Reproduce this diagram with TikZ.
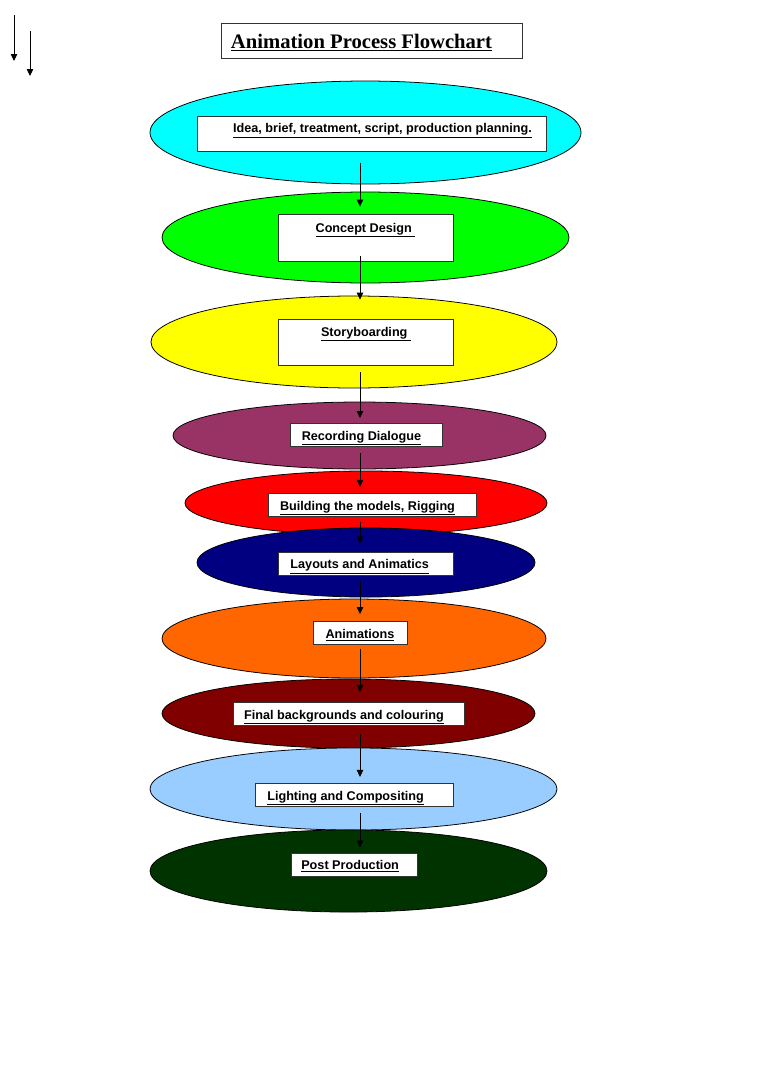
\documentclass[tikz,border=0pt]{standalone}
\usepackage{fontspec}
\setmainfont{Liberation Sans}
\newfontfamily\titlefont{Liberation Serif}
\usetikzlibrary{shapes.geometric,arrows.meta}
\definecolor{ideafill}{HTML}{00FFFF}
\definecolor{conceptfill}{HTML}{00FF00}
\definecolor{storyfill}{HTML}{FFFF00}
\definecolor{dialoguefill}{HTML}{993366}
\definecolor{modelfill}{HTML}{FF0000}
\definecolor{layoutfill}{HTML}{000080}
\definecolor{animfill}{HTML}{FF6600}
\definecolor{colourfill}{HTML}{800000}
\definecolor{lightfill}{HTML}{99CCFF}
\definecolor{postfill}{HTML}{003300}
\begin{document}
\begin{tikzpicture}[x=0.775pt, y=-0.775pt,
	stage/.style={ellipse, draw=black, line width=0.6pt, inner sep=0pt},
	box/.style={draw=black!80, fill=white, line width=0.6pt, inner sep=0pt,
		font=\bfseries\fontsize{9.8}{11}\selectfont, text height=13pt, text depth=5pt},
	flow/.style={-{Triangle[length=5.4pt,width=5pt]}, line width=0.6pt}]
	\useasboundingbox (0,0) rectangle (768,1087);
	\coordinate (s1) at (14,15);
	\coordinate (t1) at (14,61);
	\coordinate (s2) at (30,31);
	\coordinate (t2) at (30,76);
	\coordinate (axis) at (360,0);
% title
\node[box, font=\titlefont\bfseries\fontsize{16}{18}\selectfont, minimum width=233.3pt,
	text height=19.4pt, text depth=7.7pt] (title) at (371.5,40.5)
	{\underline{Animation Process Flowchart}\hspace*{15.5pt}};
	% the stages
	\node[stage, fill=ideafill, minimum width=334pt, minimum height=79.8pt] (e1) at (365.5,132.5) {};
	\node[stage, fill=conceptfill, minimum width=315.4pt, minimum height=70.5pt] (e2) at (365.5,237.5) {};
	\node[stage, fill=storyfill, minimum width=314.7pt, minimum height=71.3pt] (e3) at (354,342) {};
	\node[stage, fill=dialoguefill, minimum width=289.1pt, minimum height=51.9pt] (e4) at (359.5,435.5) {};
	\node[stage, fill=modelfill, minimum width=280.6pt, minimum height=49.6pt] (e5) at (366,503) {};
	\node[stage, fill=layoutfill, minimum width=262pt, minimum height=53.5pt] (e6) at (366,562.5) {};
	\node[stage, fill=animfill, minimum width=297.6pt, minimum height=61.2pt] (e7) at (354,638.5) {};
	\node[stage, fill=colourfill, minimum width=289.1pt, minimum height=53.5pt] (e8) at (348.5,713.5) {};
	\node[stage, fill=lightfill, minimum width=315.4pt, minimum height=63.6pt] (e9) at (353.5,789) {};
	\node[stage, fill=postfill, minimum width=307.7pt, minimum height=63.6pt] (e10) at (348.5,871) {};
	% the labels
	\node[box, minimum width=270.5pt, text height=13.2pt, text depth=14pt] (b1) at (371.5,133.5)
		{\hspace*{17pt}\underline{Idea, brief, treatment, script, production planning.}};
	\node[box, minimum width=135.6pt, text height=14pt, text depth=22.5pt] (b2) at (365.5,237.5)
		{\underline{Concept Design\ }};
	\node[box, minimum width=135.6pt, text height=13.2pt, text depth=22.5pt] (b3) at (366,342)
		{\underline{Storyboarding\ }};
	\node[box, minimum width=117.8pt] (b4) at (366,435) {\underline{Recording Dialogue}\hspace*{7pt}};
	\node[box, minimum width=161.2pt] (b5) at (372,505) {\underline{Building the models, Rigging}\hspace*{7pt}};
	\node[box, minimum width=135.6pt] (b6) at (365.5,563.5) {\underline{Layouts and Animatics}\hspace*{9pt}};
	\node[box, minimum width=72.9pt] (b7) at (360,633) {\underline{Animations}};
	\node[box, minimum width=179pt] (b8) at (348.5,714) {\underline{Final backgrounds and colouring}\hspace*{7pt}};
	\node[box, minimum width=153.5pt] (b9) at (354,795) {\underline{Lighting and Compositing}\hspace*{13pt}};
	\node[box, minimum width=97.7pt] (b10) at (354,864.5) {\underline{Post Production}\hspace*{6pt}};
	% arrows
	\draw[flow] (s1) -- (t1);
	\draw[flow] (s2) -- (t2);
	\foreach \from/\to/\s/\e in {b1/b2/9.3pt/5.4pt, b2/b3/-3.9pt/14.7pt, b3/b4/5.4pt/3.9pt,
		b4/b5/4.7pt/4.7pt, b5/b6/3.9pt/6.2pt, b6/b7/3.9pt/5.4pt, b7/b8/3.1pt/7.8pt,
		b8/b9/6.2pt/4.7pt, b9/b10/4.7pt/3.9pt}
		\draw[flow, shorten <=\s, shorten >=\e] (\from.south -| axis) -- (\to.north -| axis);
\end{tikzpicture}
\end{document}
